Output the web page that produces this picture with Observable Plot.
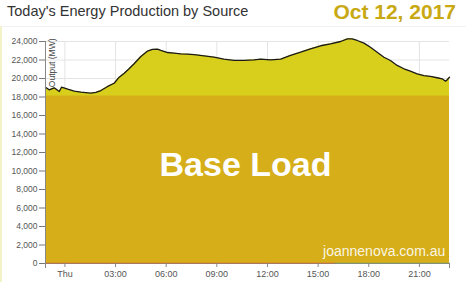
<!DOCTYPE html>
<html>
<head>
<meta charset="utf-8">
<script src="https://cdn.jsdelivr.net/npm/d3@7"></script>
<script src="https://cdn.jsdelivr.net/npm/@observablehq/plot@0.6"></script>
<style>
  html, body { margin: 0; padding: 0; background: #fff; }
  #wrap { position: relative; width: 468px; height: 282px; overflow: hidden; font-family: "Liberation Sans", Arial, sans-serif; }
  #title { position: absolute; left: 7px; top: 4.4px; font-size: 14.5px; line-height: 1; color: #333; white-space: nowrap; }
  #date { position: absolute; right: 12px; top: 1.2px; font-size: 21px; line-height: 1; font-weight: bold; color: #c8a914; white-space: nowrap; }
  #panel { position: absolute; left: 0; top: 26px; width: 466px; height: 256px; border-left: 2px solid #f3f3c8; border-top: 1px solid #f2f2f2; box-sizing: border-box; }
  #chart { position: absolute; left: 0; top: 28px; }
</style>
</head>
<body>
<div id="wrap">
  <div id="panel"></div>
  <div id="title">Today's Energy Production by Source</div>
  <div id="date">Oct 12, 2017</div>
  <div id="chart"></div>
</div>
<script>
// ---- data ----
const times = [
  "2017-10-11T22:51","2017-10-11T23:04","2017-10-11T23:22","2017-10-11T23:40","2017-10-11T23:48",
  "2017-10-12T00:10","2017-10-12T00:33","2017-10-12T00:57","2017-10-12T01:32","2017-10-12T01:50",
  "2017-10-12T02:08","2017-10-12T02:32","2017-10-12T02:55","2017-10-12T03:13","2017-10-12T03:31",
  "2017-10-12T03:48","2017-10-12T04:06","2017-10-12T04:30","2017-10-12T04:53","2017-10-12T05:11",
  "2017-10-12T05:29","2017-10-12T05:41","2017-10-12T06:05","2017-10-12T06:28","2017-10-12T06:52",
  "2017-10-12T07:16","2017-10-12T07:39","2017-10-12T08:15","2017-10-12T08:50","2017-10-12T09:25",
  "2017-10-12T10:01","2017-10-12T10:37","2017-10-12T11:12","2017-10-12T11:36","2017-10-12T12:11",
  "2017-10-12T12:47","2017-10-12T13:22","2017-10-12T13:58","2017-10-12T14:33","2017-10-12T15:09",
  "2017-10-12T15:44","2017-10-12T16:20","2017-10-12T16:44","2017-10-12T17:01","2017-10-12T17:19",
  "2017-10-12T17:43","2017-10-12T18:06","2017-10-12T18:30","2017-10-12T18:54","2017-10-12T19:17",
  "2017-10-12T19:41","2017-10-12T20:05","2017-10-12T20:28","2017-10-12T20:52","2017-10-12T21:16",
  "2017-10-12T21:39","2017-10-12T22:03","2017-10-12T22:21","2017-10-12T22:33","2017-10-12T22:39",
  "2017-10-12T22:47"
];
const totalOutput = [
  19060, 18780, 18990, 18590, 19060,
  18840, 18630, 18520, 18410, 18490,
  18700, 19140, 19490, 20140, 20570,
  21050, 21590, 22380, 22950, 23140,
  23170, 23030, 22810, 22740, 22670,
  22630, 22590, 22450, 22300, 22090,
  21950, 21950, 22020, 22090, 22020,
  22090, 22490, 22840, 23210, 23540,
  23750, 24000, 24290, 24290, 24110,
  23820, 23380, 22840, 22300, 21950,
  21410, 21050, 20790, 20510, 20320,
  20220, 20080, 19970, 19710, 19860,
  20140
];
const baseLoad = 18100;
// small near-zero sources along the bottom edge
const redTimes = ["2017-10-11T22:51", "2017-10-12T16:00"];
const redValues = [20, 20];
const greenTimes = ["2017-10-12T16:00", "2017-10-12T22:47"];
const greenValues = [20, 20];
const yTicks = [0, 2000, 4000, 6000, 8000, 10000, 12000, 14000, 16000, 18000, 20000, 22000, 24000];
const xTickTimes = ["2017-10-12T00:00","2017-10-12T03:00","2017-10-12T06:00","2017-10-12T09:00",
                    "2017-10-12T12:00","2017-10-12T15:00","2017-10-12T18:00","2017-10-12T21:00"];
const xTickLabels = ["Thu","03:00","06:00","09:00","12:00","15:00","18:00","21:00"];

// ---- build tables ----
const parse = s => new Date(s + ":00Z");
const series = times.map((t, i) => ({t: parse(t), v: totalOutput[i]}));
const base = series.map(d => ({t: d.t, v: baseLoad}));
const red = redTimes.map((t, i) => ({t: parse(t), v: redValues[i]}));
const green = greenTimes.map((t, i) => ({t: parse(t), v: greenValues[i]}));
const xTicks = xTickTimes.map(parse);
const labelOf = new Map(xTicks.map((d, i) => [+d, xTickLabels[i]]));
const x0 = series[0].t, x1 = series[series.length - 1].t;

const chart = Plot.plot({
  width: 468,
  height: 254,
  marginLeft: 45,
  marginRight: 19,
  marginTop: 13,
  marginBottom: 19,
  style: {fontFamily: "'Liberation Sans', Arial, sans-serif", background: "transparent", color: "#555", overflow: "visible"},
  x: {type: "utc", domain: [x0, x1], label: null},
  y: {domain: [0, 24000], label: null},
  marks: [
    Plot.gridX(xTicks, {stroke: "#e4e4e4", strokeOpacity: 1}),
    Plot.gridY(yTicks, {stroke: "#e4e4e4", strokeOpacity: 1}),
    Plot.areaY(series, {x: "t", y: "v", fill: "#d8cf1c", curve: "linear"}),
    Plot.areaY(base, {x: "t", y: "v", fill: "#d6ae1a"}),
    Plot.lineY(series, {x: "t", y: "v", stroke: "#1a1a1a", strokeWidth: 1.3}),
    Plot.lineY(red, {x: "t", y: "v", stroke: "#d8602a", strokeWidth: 1.2}),
    Plot.lineY(green, {x: "t", y: "v", stroke: "#7a9a5a", strokeWidth: 1.2}),
    Plot.text(["Base Load"], {x: parse("2017-10-12T10:42"), y: 10600, text: d => d, fill: "#fff",
      fontSize: 34, fontWeight: "bold", textAnchor: "middle"}),
    Plot.text(["joannenova.com.au"], {x: parse("2017-10-12T22:32"), y: 1300, text: d => d, fill: "#fff",
      fillOpacity: 0.9, fontSize: 14, textAnchor: "end"}),
    Plot.text(["Output (MW)"], {x: x0, y: 24000, text: d => d, rotate: -90, textAnchor: "end",
      dx: 7, dy: -3, fontSize: 8.5, fill: "#444"}),
    Plot.ruleX([x0], {y1: 0, y2: 24000, stroke: "#888"}),
    Plot.ruleY([0], {stroke: "#888", strokeOpacity: 0.6}),
    Plot.axisY({ticks: yTicks, tickSize: 6, tickPadding: 2, fontSize: 8.5, stroke: "#777",
      tickFormat: d3.format(","), fill: "#555", label: null}),
    Plot.axisX({ticks: xTicks, tickSize: 4, tickPadding: 3, fontSize: 9, stroke: "#888", fill: "#555",
      tickFormat: d => labelOf.get(+d), label: null}),
    Plot.axisX({ticks: [x0, x1], tickSize: 5, stroke: "#888", tickFormat: () => "", label: null})
  ]
});
document.getElementById("chart").appendChild(chart);
</script>
</body>
</html>
